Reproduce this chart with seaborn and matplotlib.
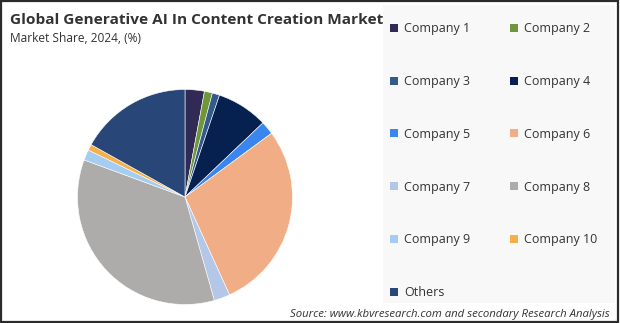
import matplotlib
matplotlib.use("Agg")
import matplotlib.pyplot as plt
import seaborn as sns
from matplotlib.patches import Rectangle, Patch

sns.set_theme(style="white")
plt.rcParams['font.family'] = ['Open Sans', 'DejaVu Sans']

labels = ["Company 1", "Company 2", "Company 3", "Company 4", "Company 5",
          "Company 6", "Company 7", "Company 8", "Company 9", "Company 10", "Others"]
shares = [2.9, 1.2, 1.1, 7.7, 2.0, 28.3, 2.4, 35.0, 1.6, 0.9, 16.9]
colors = ["#312a55", "#70963c", "#335a8a", "#06204f", "#3b86ee", "#f1ae86",
          "#b4c7e7", "#aeabab", "#a5cdf1", "#f5b04a", "#284677"]

fig = plt.figure(figsize=(6.2, 3.23), dpi=100)
fig.patch.set_facecolor("white")

# legend background panel
fig.patches.append(Rectangle((383/620, 1 - 303/323), (615-383)/620, (303-5)/323,
                             transform=fig.transFigure, facecolor="#f8f8f8",
                             edgecolor="none", zorder=0))
# outer border
fig.patches.append(Rectangle((0.0015, 0.003), 0.995, 0.994, transform=fig.transFigure,
                             facecolor="none", edgecolor="#2b2b2b", linewidth=1.6, zorder=5))

# pie axes: center (185,197), radius ~107.5
r = 107.5
cx, cy = 185, 197
ax = fig.add_axes([(cx - r) / 620, 1 - (cy + r) / 323, 2 * r / 620, 2 * r / 323])
ax.pie(shares, colors=colors, startangle=90, counterclock=False,
       wedgeprops=dict(edgecolor="white", linewidth=0.4))
ax.set_aspect("auto")
ax.set_xlim(-1, 1)
ax.set_ylim(-1, 1)
ax.axis("off")

fig.text(10/620, 1 - 20/323, "Global Generative AI In Content Creation Market",
         fontsize=11.1, fontweight="bold", color="#333333", va="center", ha="left")
fig.text(10/620, 1 - 38/323, "Market Share, 2024, (%)",
         fontsize=8.6, color="#333333", va="center", ha="left")

# legend (rows read 1,2 / 3,4 / ...)
handles = [Patch(facecolor=c, edgecolor="none") for c in colors]
new_order = [0, 2, 4, 6, 8, 10] + [1, 3, 5, 7, 9]
leg = fig.legend([handles[i] for i in new_order], [labels[i] for i in new_order],
                 ncol=2, loc="upper left",
                 bbox_to_anchor=(379/620, 1 - 11/323), frameon=False,
                 fontsize=9, handlelength=0.6, handleheight=0.6,
                 handletextpad=0.5, columnspacing=3.2, labelspacing=3.18,
                 labelcolor="#333333")

fig.text(610/620, 1 - 314/323,
         "Source: www.kbvresearch.com and secondary Research Analysis",
         fontsize=8.2, style="italic", color="#333333", ha="right", va="center")

fig.savefig("out.png", dpi=100, facecolor=fig.get_facecolor())
